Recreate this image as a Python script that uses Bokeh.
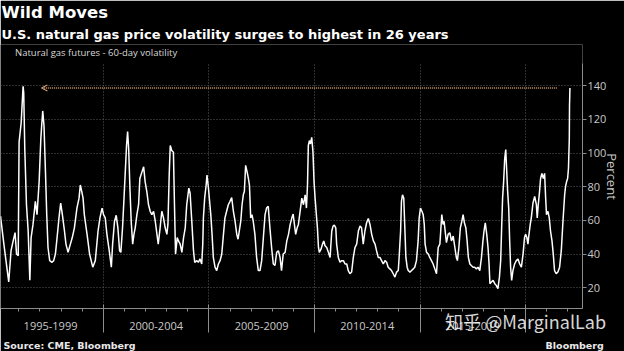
import numpy as np
from bokeh.plotting import figure
from bokeh.models import (Range1d, FixedTicker, LinearAxis, Legend, Title,
                          LegendItem, Arrow, OpenHead)
from bokeh.embed import file_html
from bokeh.resources import INLINE

# ---- data: 60-day volatility of natural gas futures (percent) ----
dates_a = [1995.13, 1995.29, 1995.37, 1995.45, 1995.52, 1995.63, 1995.73, 1995.82, 1995.89, 1995.97,
           1996.01, 1996.11, 1996.20, 1996.23, 1996.28, 1996.36, 1996.44, 1996.52, 1996.58, 1996.67,
           1996.78, 1996.86, 1996.96, 1997.04, 1997.08, 1997.13, 1997.19, 1997.26, 1997.32, 1997.38,
           1997.46, 1997.57, 1997.65, 1997.73, 1997.81, 1997.90, 1997.98, 1998.06, 1998.16, 1998.23,
           1998.33, 1998.44, 1998.53, 1998.63, 1998.75, 1998.85, 1998.91, 1998.98, 1999.04, 1999.10,
           1999.23, 1999.35, 1999.50]
vol_a = [62.5, 45.9, 38.0, 30.2, 23.4, 42.0, 47.8, 52.7, 40.0, 39.0,
         106.4, 118.1, 139.6, 135.7, 102.5, 69.3, 53.7, 24.4, 49.8, 57.6,
         71.3, 63.4, 83.0, 108.4, 116.2, 125.0, 116.2, 88.8, 63.4, 43.9,
         36.1, 35.1, 36.1, 40.0, 49.8, 61.5, 70.3, 63.4, 53.7, 45.9,
         41.0, 45.9, 49.8, 55.6, 67.3, 73.2, 81.0, 77.1, 73.2, 63.4,
         51.7, 40.0, 32.2]

dates_b = [1999.62, 1999.75, 1999.84, 1999.94, 2000.01, 2000.09, 2000.17, 2000.28, 2000.38, 2000.44,
           2000.53, 2000.61, 2000.69, 2000.77, 2000.83, 2000.91, 2000.98, 2001.04, 2001.10, 2001.15,
           2001.20, 2001.26, 2001.32, 2001.39, 2001.45, 2001.51, 2001.59, 2001.67, 2001.73, 2001.83,
           2001.91, 2001.98, 2002.06, 2002.14, 2002.22, 2002.30, 2002.38, 2002.46, 2002.54, 2002.60,
           2002.69, 2002.77, 2002.85, 2002.93, 2003.01, 2003.06, 2003.12, 2003.17, 2003.24, 2003.32,
           2003.37, 2003.42, 2003.50, 2003.56, 2003.64, 2003.72, 2003.80, 2003.88, 2003.95, 2004.05]
vol_b = [36.1, 53.7, 61.5, 67.3, 63.4, 61.5, 51.7, 42.0, 32.2, 45.9,
         59.5, 63.0, 55.6, 42.0, 41.0, 55.6, 73.2, 88.8, 104.5, 112.7,
         102.5, 79.1, 59.5, 45.9, 51.7, 55.6, 63.4, 69.3, 84.9, 88.8,
         91.8, 83.0, 77.1, 69.3, 65.4, 63.4, 65.4, 59.5, 51.7, 45.9,
         55.6, 65.4, 61.5, 55.6, 51.7, 57.6, 86.9, 104.5, 101.5, 100.5,
         69.3, 40.0, 49.8, 47.8, 45.9, 41.0, 49.8, 55.6, 69.3, 79.1]

dates_c = [2004.11, 2004.19, 2004.27, 2004.33, 2004.43, 2004.50, 2004.58, 2004.66, 2004.71, 2004.74,
           2004.80, 2004.87, 2004.91, 2004.98, 2005.02, 2005.09, 2005.15, 2005.21, 2005.29, 2005.37,
           2005.45, 2005.53, 2005.61, 2005.69, 2005.76, 2005.84, 2005.92, 2006.00, 2006.08, 2006.16,
           2006.24, 2006.32, 2006.38, 2006.44, 2006.51, 2006.57, 2006.63, 2006.68, 2006.74, 2006.81,
           2006.87, 2006.92, 2006.98, 2007.04, 2007.10, 2007.18, 2007.26, 2007.34, 2007.42, 2007.50,
           2007.58, 2007.66, 2007.73, 2007.81, 2007.89, 2007.97, 2008.05, 2008.13, 2008.21, 2008.29,
           2008.37, 2008.44, 2008.52]
vol_c = [76.1, 59.5, 42.0, 35.1, 36.1, 35.1, 37.1, 34.1, 45.9, 61.5,
         73.2, 81.0, 86.9, 79.1, 73.2, 63.4, 51.7, 38.0, 32.2, 30.2,
         34.1, 36.1, 40.0, 51.7, 61.5, 65.4, 69.3, 71.3, 73.6, 65.4,
         59.5, 51.7, 48.8, 53.7, 59.5, 69.3, 75.2, 77.1, 92.7, 88.8,
         84.9, 81.0, 61.5, 63.4, 59.5, 51.7, 38.0, 30.2, 30.2, 36.1,
         49.8, 63.4, 67.3, 68.3, 55.6, 43.9, 34.1, 33.2, 41.0, 42.0,
         38.0, 30.2, 40.0]

dates_d = [2008.61, 2008.69, 2008.77, 2008.85, 2008.93, 2008.99, 2009.05, 2009.11, 2009.18, 2009.24,
           2009.32, 2009.40, 2009.48, 2009.56, 2009.62, 2009.67, 2009.71, 2009.76, 2009.81, 2009.87,
           2009.93, 2009.98, 2010.03, 2010.09, 2010.14, 2010.19, 2010.23, 2010.31, 2010.38, 2010.44,
           2010.50, 2010.58, 2010.66, 2010.74, 2010.82, 2010.88, 2010.94, 2011.01, 2011.05, 2011.13,
           2011.21, 2011.29, 2011.37, 2011.45, 2011.53, 2011.60, 2011.68, 2011.76, 2011.84, 2011.92,
           2012.00, 2012.08, 2012.16, 2012.23, 2012.31, 2012.39, 2012.47, 2012.55, 2012.63, 2012.71,
           2012.79, 2012.87, 2012.94, 2013.02]
vol_d = [41.0, 47.8, 51.7, 57.6, 61.5, 63.8, 57.6, 51.7, 55.6, 57.6,
         65.4, 73.2, 69.3, 75.2, 67.3, 81.0, 104.5, 107.4, 105.4, 109.3,
         100.5, 83.0, 73.2, 63.4, 55.6, 43.9, 41.0, 42.9, 45.9, 47.8,
         44.9, 43.9, 41.0, 38.0, 53.7, 56.6, 57.2, 55.6, 45.9, 38.0,
         35.1, 36.1, 36.1, 34.1, 34.1, 30.2, 28.3, 29.3, 38.0, 43.9,
         45.9, 53.7, 56.6, 55.6, 45.9, 53.7, 58.6, 61.1, 57.6, 51.7,
         47.8, 45.9, 42.0, 38.0]

dates_e = [2013.10, 2013.18, 2013.26, 2013.34, 2013.42, 2013.49, 2013.57, 2013.65, 2013.73, 2013.81,
           2013.89, 2013.97, 2014.01, 2014.08, 2014.12, 2014.17, 2014.23, 2014.28, 2014.33, 2014.39,
           2014.44, 2014.52, 2014.60, 2014.68, 2014.75, 2014.83, 2014.91, 2014.96, 2015.02, 2015.09,
           2015.15, 2015.20, 2015.24, 2015.31, 2015.39, 2015.46, 2015.54, 2015.62, 2015.70, 2015.78,
           2015.86, 2015.94, 2015.98, 2016.03, 2016.09, 2016.14, 2016.19, 2016.25, 2016.33, 2016.41,
           2016.49, 2016.57, 2016.65, 2016.72, 2016.77, 2016.84, 2016.91, 2016.98, 2017.04, 2017.10,
           2017.17, 2017.23, 2017.29, 2017.36, 2017.43, 2017.51]
vol_e = [38.0, 36.1, 34.1, 36.1, 35.1, 32.2, 31.2, 30.2, 28.3, 26.3,
         29.3, 30.2, 38.0, 53.7, 71.3, 75.2, 73.2, 55.6, 38.0, 32.2,
         30.2, 29.3, 30.2, 31.2, 32.2, 36.1, 47.8, 61.5, 67.3, 65.4,
         63.4, 57.6, 45.9, 41.0, 40.0, 38.0, 36.1, 34.1, 31.2, 28.3,
         43.9, 45.9, 53.7, 63.4, 57.6, 59.5, 53.7, 46.8, 51.7, 52.7,
         47.8, 50.7, 43.9, 38.0, 36.1, 43.9, 55.6, 59.5, 63.4, 58.6,
         55.6, 47.8, 38.0, 34.1, 33.2, 32.2]

dates_f = [2017.59, 2017.67, 2017.75, 2017.83, 2017.91, 2017.98, 2018.03, 2018.09, 2018.16, 2018.22,
           2018.27, 2018.31, 2018.38, 2018.46, 2018.54, 2018.61, 2018.69, 2018.76, 2018.82, 2018.87,
           2018.91, 2018.96, 2019.01, 2019.06, 2019.10, 2019.15, 2019.20, 2019.24, 2019.29, 2019.34,
           2019.40, 2019.48, 2019.56, 2019.64, 2019.72, 2019.80, 2019.88, 2019.95, 2020.00, 2020.06,
           2020.11, 2020.16, 2020.22, 2020.27, 2020.35, 2020.43, 2020.51, 2020.55, 2020.60, 2020.66,
           2020.71, 2020.77, 2020.84, 2020.90, 2020.95, 2020.99, 2021.06, 2021.12, 2021.18, 2021.25,
           2021.31, 2021.37, 2021.45, 2021.53, 2021.61, 2021.69, 2021.77, 2021.85, 2021.89, 2021.94,
           2021.99, 2022.03, 2022.07, 2022.08, 2022.10]
vol_f = [32.2, 31.2, 32.2, 30.2, 38.0, 47.8, 53.7, 58.6, 51.7, 43.9,
         34.1, 22.4, 23.4, 24.4, 22.4, 21.4, 19.5, 26.3, 36.1, 57.6,
         73.2, 83.0, 96.6, 102.1, 90.8, 77.1, 67.3, 49.8, 32.2, 24.4,
         30.2, 34.1, 36.1, 37.1, 34.1, 32.2, 40.0, 49.8, 51.7, 49.8,
         45.9, 51.7, 57.6, 61.5, 70.3, 74.2, 69.3, 61.5, 69.3, 77.1,
         84.9, 87.9, 84.9, 87.9, 73.2, 63.4, 65.4, 61.5, 53.7, 47.8,
         40.0, 30.2, 28.3, 29.3, 32.2, 42.0, 59.5, 75.2, 80.0, 82.9,
         84.9, 90.8, 108.4, 127.9, 138.6]

period_labels = ["1995-1999", "2000-2004", "2005-2009", "2010-2014", "2015-2019"]
period_starts = [1995, 2000, 2005, 2010, 2015]
separators = [2000, 2005, 2010, 2015, 2020]
y_ticks = [20, 40, 60, 80, 100, 120, 140]
series_name = "Natural gas futures - 60-day volatility"
title_text = "Wild Moves"
subtitle_text = "U.S. natural gas price volatility surges to highest in 26 years"
source_text = "Source: CME, Bloomberg"
brand_text = "Bloomberg"
watermark_text = "知乎 @MarginalLab"

dates = dates_a + dates_b + dates_c + dates_d + dates_e + dates_f
vol = vol_a + vol_b + vol_c + vol_d + vol_e + vol_f

# ---- styling ----
BG = "black"
AXIS = "#8c8c8c"
TICK_TXT = "#c9c9c9"
GRID = "#5c5c5c"
ARROW = "#cf9d6c"
Y_LO, Y_HI, Y_TOP = 7.67, 153.3, 164.45

p = figure(width=624, height=351, output_backend="svg", toolbar_location=None,
           x_range=Range1d(1995.13, 2022.695), y_range=Range1d(Y_LO, Y_TOP),
           x_axis_location="below", y_axis_location="right",
           background_fill_color=BG, border_fill_color=BG, outline_line_color=None,
           min_border_left=0, min_border_right=41, min_border_top=41, min_border_bottom=43)

# grids
p.ygrid.ticker = FixedTicker(ticks=y_ticks)
p.xgrid.ticker = FixedTicker(ticks=separators)
for g in (p.xgrid[0], p.ygrid[0]):
    g.grid_line_color = GRID
    g.grid_line_dash = "1 2"
    g.grid_line_width = 1
try:
    p.xgrid[0].cross_bounds = (Y_LO, Y_HI)
except Exception:
    pass

# x axis with period labels (nearest the frame)
centers = [s + 2.5 for s in period_starts]
xa = p.xaxis[0]
xa.ticker = FixedTicker(ticks=centers, minor_ticks=list(range(1996, 2023)))
xa.major_label_overrides = {c: lab for c, lab in zip(centers, period_labels)}
xa.axis_line_color = AXIS
xa.major_tick_in = 0
xa.major_tick_out = 0
xa.minor_tick_in = 0
xa.minor_tick_out = 3
xa.minor_tick_line_color = AXIS
xa.major_label_standoff = 10
xa.major_label_text_font = "Open Sans"
xa.major_label_text_font_size = "11px"
xa.major_label_text_color = TICK_TXT

# second axis: long period separators (+ the overlaid watermark text at the last one)
wm_over = {s: "" for s in separators}
wm_over[separators[-1]] = watermark_text
xb = LinearAxis(ticker=FixedTicker(ticks=separators, minor_ticks=[]),
                axis_line_color=None, major_tick_in=28, major_tick_out=0,
                major_tick_line_color=AXIS, minor_tick_line_color=None,
                major_label_text_font="Noto Sans CJK SC",
                major_label_text_font_size="18px", major_label_text_color="white",
                major_label_text_alpha=0.85, major_label_standoff=-25,
                major_label_overrides=wm_over)
p.add_layout(xb, "below")

# y axis on the right
ya = p.yaxis[0]
ya.ticker = FixedTicker(ticks=y_ticks)
ya.bounds = (Y_LO, Y_HI)
ya.axis_line_color = AXIS
ya.major_tick_line_color = AXIS
ya.major_tick_in = 0
ya.major_tick_out = 4
ya.minor_tick_line_color = None
ya.major_label_standoff = 1
ya.major_label_text_font = "Open Sans"
ya.major_label_text_font_size = "11px"
ya.major_label_text_color = TICK_TXT
ya.axis_label = "Percent"
ya.axis_label_text_font = "Open Sans"
ya.axis_label_text_font_size = "13px"
ya.axis_label_text_font_style = "normal"
ya.axis_label_text_color = TICK_TXT
ya.axis_label_standoff = -6

# series
line = p.line(dates, vol, line_color="white", line_width=1.5)
swatch = p.scatter([], [], marker="square", size=6, fill_color="white", line_color="white")
legend = Legend(items=[LegendItem(label=series_name, renderers=[swatch])],
                location="top_left", margin=2, padding=0, spacing=0,
                glyph_width=8, glyph_height=8, label_standoff=5,
                label_text_font="Open Sans", label_text_font_size="9.5px",
                label_text_color="#d8d8d8", background_fill_alpha=0,
                border_line_alpha=0)
p.add_layout(legend)

# arrow from the latest spike back to the 1996 peak
i_old = int(np.argmax(vol_a))
level = vol[-1]
p.add_layout(Arrow(end=OpenHead(size=6, line_color=ARROW, line_width=1.2),
                   x_start=dates[-1] - 0.62, y_start=level,
                   x_end=dates[i_old] + 0.87, y_end=level,
                   line_color=ARROW, line_width=1.5, line_dash="1 1"))

# header (added nearest-first) and footer
p.add_layout(Title(text=subtitle_text, text_font="DejaVu Sans", text_font_size="13px",
                   text_font_style="bold", text_color="white", align="left",
                   offset=1, standoff=6), "above")
p.add_layout(Title(text=title_text, text_font="DejaVu Sans", text_font_size="16.5px",
                   text_font_style="bold", text_color="white", align="left",
                   offset=1, standoff=0), "above")
gap = "\u00a0" * 124
p.add_layout(Title(text=source_text + gap + brand_text, text_font="DejaVu Sans",
                   text_font_size="9.5px", text_font_style="bold", text_color="#e8e8e8",
                   align="left", offset=3, standoff=2), "below")

open("out.html", "w").write(file_html(p, INLINE))
